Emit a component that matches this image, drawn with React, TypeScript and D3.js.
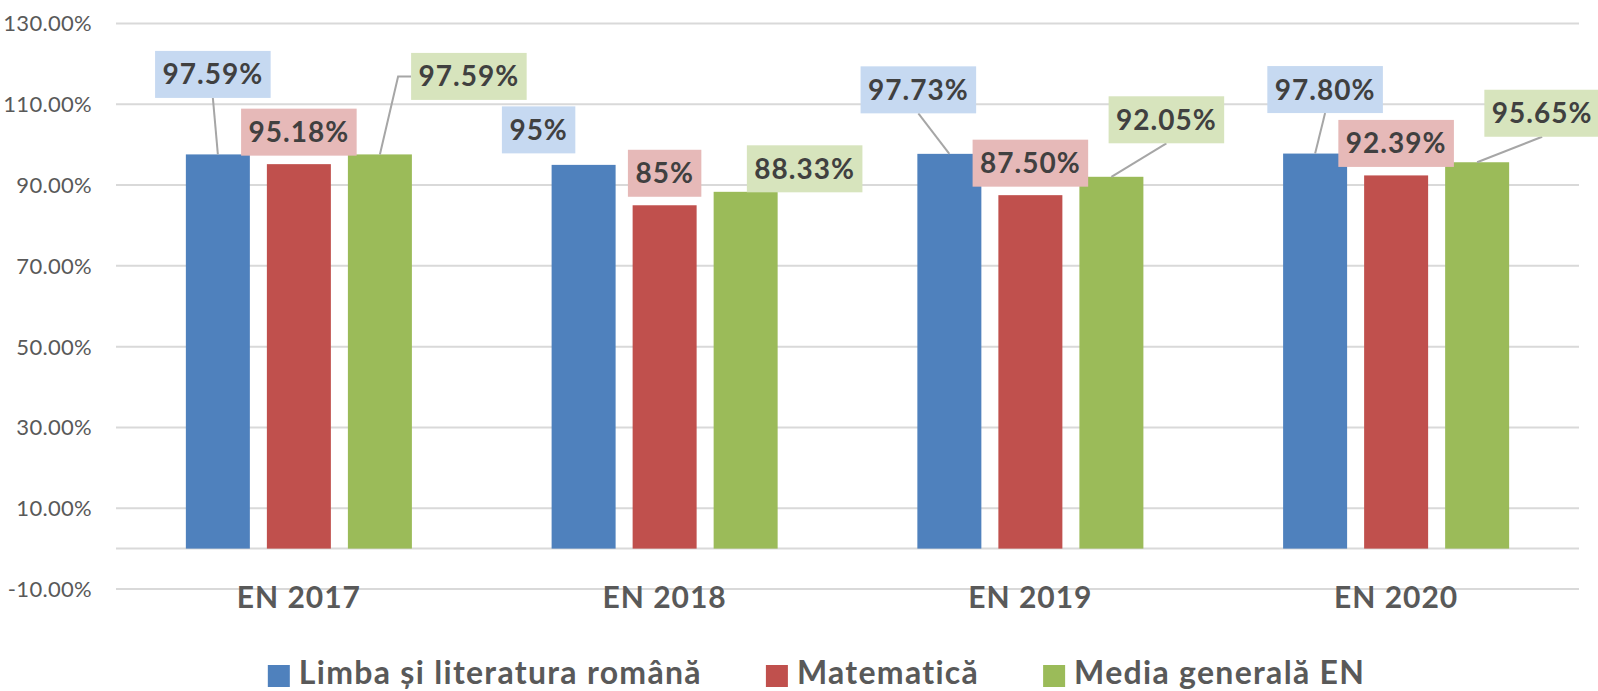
import React, { useEffect, useRef } from "react";
import * as d3 from "d3";

// chart data
const categories = ["EN 2017", "EN 2018", "EN 2019", "EN 2020"];
const seriesNames = ["Limba și literatura română", "Matematică", "Media generală EN"];
const limba = [97.59, 95, 97.73, 97.8];
const matematica = [95.18, 85, 87.5, 92.39];
const media = [97.59, 88.33, 92.05, 95.65];
const yTicks = [-10, 10, 30, 50, 70, 90, 110, 130];

const barColors = ["#4f81bd", "#c0504d", "#9bbb59"];
const labelFills = ["#c6d9f1", "#e6b9b8", "#d7e4bd"];

// where each data label sits relative to the top of its bar: [dx, dy, leader]
const labelPlacement = [
  [[-5, -80, "bottom"], [-45, -35, "none"], [-31, -64, "bottom"], [10, -64, "bottom"]],
  [[0, -32, "none"], [0, -32, "none"], [0, -32, "none"], [0, -32, "none"]],
  [[89, -78, "left"], [59, -23, "none"], [55, -57, "bottom"], [65, -49, "bottom"]],
];

const W = 1598;
const H = 691;
const FONT = "Lato, 'Open Sans', sans-serif";

const fmtLabel = (v: number) => (Number.isInteger(v) ? v + "%" : v.toFixed(2) + "%");

function Chart() {
  const ref = useRef<SVGSVGElement>(null);

  useEffect(() => {
    const svg = d3.select(ref.current);
    svg.selectAll("*").remove();

    const values = [limba, matematica, media];

    const y = d3.scaleLinear().domain([-10, 130]).range([589, 23.5]);
    const x0 = d3
      .scaleBand()
      .domain(categories)
      .range([116, 1579])
      .paddingInner(0.382)
      .paddingOuter(0.191);
    const x1 = d3
      .scaleBand()
      .domain(seriesNames)
      .range([0, x0.bandwidth()])
      .paddingInner(0.21);

    // gridlines (+ the zero axis line)
    svg
      .append("g")
      .selectAll("line")
      .data(yTicks.concat([0]))
      .join("line")
      .attr("x1", 116)
      .attr("x2", 1579)
      .attr("y1", d => y(d))
      .attr("y2", d => y(d))
      .attr("stroke", "#d9d9d9")
      .attr("stroke-width", 2);

    // y tick labels
    svg
      .append("g")
      .selectAll("text")
      .data(yTicks)
      .join("text")
      .attr("x", 92)
      .attr("y", d => y(d))
      .attr("dy", "0.36em")
      .attr("text-anchor", "end")
      .style("font-family", FONT)
      .style("font-size", "22px")
      .style("letter-spacing", "0.3px")
      .attr("fill", "#595959")
      .text(d => d.toFixed(2) + "%");

    // category labels
    svg
      .append("g")
      .selectAll("text")
      .data(categories)
      .join("text")
      .attr("x", d => x0(d)! + x0.bandwidth() / 2)
      .attr("y", 608)
      .attr("text-anchor", "middle")
      .style("font-family", FONT)
      .style("font-size", "30px")
      .style("font-weight", "bold")
      .style("letter-spacing", "1px")
      .attr("fill", "#595959")
      .text(d => d);

    // bars
    seriesNames.forEach((s, si) => {
      svg
        .append("g")
        .selectAll("rect")
        .data(values[si])
        .join("rect")
        .attr("x", (d, i) => x0(categories[i])! + x1(s)!)
        .attr("y", d => y(d))
        .attr("width", x1.bandwidth())
        .attr("height", d => y(0) - y(d))
        .attr("fill", barColors[si]);
    });

    // data labels with leader lines
    const lblG = svg.append("g");
    const leaderG = lblG.append("g");
    seriesNames.forEach((s, si) => {
      values[si].forEach((v, i) => {
        const [dx, dy, leader] = labelPlacement[si][i] as [number, number, string];
        const cx = x0(categories[i])! + x1(s)! + x1.bandwidth() / 2;
        const top = y(v);
        const lx = cx + dx;
        const ly = top + dy;
        const g = lblG.append("g");
        const box = g.append("rect");
        const t = g
          .append("text")
          .attr("x", lx)
          .attr("y", ly)
          .attr("dy", "0.36em")
          .attr("text-anchor", "middle")
          .style("font-family", FONT)
          .style("font-size", "28px")
          .style("font-weight", "bold")
          .style("letter-spacing", "1px")
          .attr("fill", "#404040")
          .text(fmtLabel(v));
        const tw = (t.node() as SVGTextElement).getComputedTextLength();
        const bw = tw + 15;
        const bh = 47;
        box
          .attr("x", lx - bw / 2)
          .attr("y", ly - bh / 2)
          .attr("width", bw)
          .attr("height", bh)
          .attr("fill", labelFills[si]);
        if (leader === "bottom") {
          leaderG
            .append("path")
            .attr("d", `M${lx},${ly + bh / 2}L${cx},${top}`)
            .attr("fill", "none")
            .attr("stroke", "#a6a6a6")
            .attr("stroke-width", 2);
        } else if (leader === "left") {
          const lft = lx - bw / 2;
          leaderG
            .append("path")
            .attr("d", `M${lft},${ly}L${lft - 13},${ly}L${cx},${top}`)
            .attr("fill", "none")
            .attr("stroke", "#a6a6a6")
            .attr("stroke-width", 2);
        }
      });
    });

    // legend
    const leg = svg.append("g");
    const items = seriesNames.map((s, si) => {
      const g = leg.append("g");
      g.append("rect")
        .attr("width", 22)
        .attr("height", 22)
        .attr("y", 665)
        .attr("fill", barColors[si]);
      const t = g
        .append("text")
        .attr("x", 31)
        .attr("y", 684)
        .style("font-family", FONT)
        .style("font-size", "32px")
        .style("font-weight", "bold")
        .style("letter-spacing", "1.3px")
        .attr("fill", "#595959")
        .text(s);
      const w = (t.node() as SVGTextElement).getComputedTextLength();
      return { g, w: 31 + w };
    });
    const gap = 64;
    const total = d3.sum(items, d => d.w) + gap * (items.length - 1);
    let xx = 816.5 - total / 2;
    items.forEach(it => {
      it.g.attr("transform", `translate(${xx},0)`);
      xx += it.w + gap;
    });
  }, []);

  return (
    <svg
      ref={ref}
      width={W}
      height={H}
      style={{ position: "absolute", left: 0, top: 0, background: "#fff" }}
    />
  );
}

export default function App() {
  return <Chart />;
}
